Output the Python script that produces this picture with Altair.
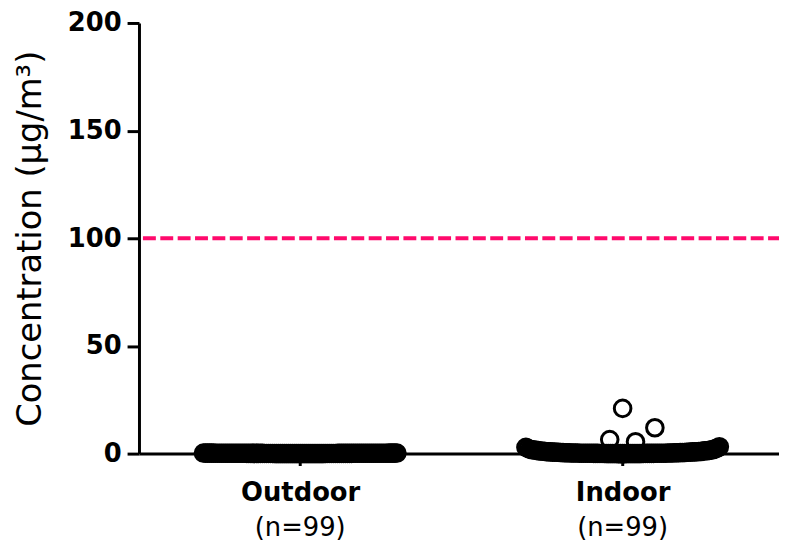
import altair as alt
import pandas as pd
import numpy as np

groups = ["Outdoor", "Indoor"]
n_labels = ["(n=99)", "(n=99)"]

outdoor = [
    0.12, 0.05, 0.20, 0.08, 0.15, 0.03, 0.10, 0.25, 0.07, 0.18,
    0.09, 0.14, 0.02, 0.22, 0.11, 0.06, 0.17, 0.04, 0.13, 0.19,
    0.08, 0.21, 0.10, 0.05, 0.16, 0.12, 0.03, 0.24, 0.09, 0.14,
    0.07, 0.18, 0.11, 0.02, 0.20, 0.06, 0.15, 0.10, 0.23, 0.04,
    0.13, 0.08, 0.19, 0.12, 0.05, 0.17, 0.09, 0.26, 0.03, 0.14,
    0.10, 0.21, 0.07, 0.16, 0.11, 0.04, 0.18, 0.08, 0.13, 0.22,
    0.06, 0.15, 0.09, 0.20, 0.02, 0.12, 0.17, 0.05, 0.24, 0.10,
    0.14, 0.07, 0.19, 0.11, 0.03, 0.16, 0.08, 0.21, 0.13, 0.06,
    0.18, 0.10, 0.04, 0.15, 0.12, 0.23, 0.09, 0.17, 0.05, 0.20,
    0.11, 0.14, 0.07, 0.19, 0.02, 0.16, 0.10, 0.13, 0.08,
]

indoor = [
    21.0, 12.0, 6.5, 5.5, 3.2, 2.9, 2.6, 2.4, 2.2, 2.0,
    1.9, 1.8, 1.7, 1.6, 1.5, 1.5, 1.4, 1.3, 1.3, 1.2,
    1.2, 1.1, 1.1, 1.0, 1.0, 0.9, 0.9, 0.9, 0.8, 0.8,
    0.8, 0.7, 0.7, 0.7, 0.6, 0.6, 0.6, 0.6, 0.5, 0.5,
    0.5, 0.5, 0.5, 0.4, 0.4, 0.4, 0.4, 0.4, 0.4, 0.3,
    0.3, 0.3, 0.3, 0.3, 0.3, 0.3, 0.2, 0.2, 0.2, 0.2,
    0.2, 0.2, 0.2, 0.2, 0.15, 0.15, 0.15, 0.15, 0.15, 0.1,
    0.1, 0.1, 0.1, 0.1, 0.1, 0.1, 0.1, 0.08, 0.08, 0.08,
    0.08, 0.06, 0.06, 0.06, 0.05, 0.05, 0.05, 0.04, 0.04, 0.03,
    0.03, 0.03, 0.02, 0.02, 0.02, 0.01, 0.01, 0.0, 0.0,
]

limit_value = 100

W, H = 645, 434
X_DOMAIN = [-0.5, 1.485]
Y_DOMAIN = [0, 200]
PX_X = W / (X_DOMAIN[1] - X_DOMAIN[0])
PX_Y = H / (Y_DOMAIN[1] - Y_DOMAIN[0])
DIAM = 22.0


def swarm(values, center, half_width=0.30, row_max=4.0):
    """Deterministic beeswarm: low values in one row, outliers spread around the centre."""
    base = sorted(v for v in values if v < row_max)
    high = sorted(v for v in values if v >= row_max)
    n = len(base)
    offs = np.linspace(-half_width, half_width, n)
    order = sorted(range(n), key=lambda i: abs(offs[i]))
    pts = [(center + offs[order[k]], base[k]) for k in range(n)]

    # bin outliers whose vertical distance is less than half a marker
    bins = []
    for v in high:
        if bins and (v - bins[-1][-1]) * PX_Y < DIAM / 2:
            bins[-1].append(v)
        else:
            bins.append([v])
    placed = []
    steps = [0]
    for s in range(1, 40):
        steps += [s, -s]
    for b in bins:
        b_desc = sorted(b, reverse=True)
        k = len(b_desc)
        rel = [(j - (k - 1) / 2) * (DIAM + 4) / PX_X for j in range(k)]
        for s in steps:
            shift = s * 0.01
            cand = [(r + shift, v) for r, v in zip(rel, b_desc)]
            ok = all(((cx - px) * PX_X) ** 2 + ((cv - pv) * PX_Y) ** 2 >= DIAM ** 2
                     for cx, cv in cand for px, pv in placed)
            if ok:
                break
        placed += cand
    pts += [(center + px, pv) for px, pv in placed]
    return pts


rows = []
for gi, vals in enumerate([outdoor, indoor]):
    for x, v in swarm(vals, gi):
        rows.append({"x": x, "value": v, "group": groups[gi]})
df = pd.DataFrame(rows)

font = "DejaVu Sans"

x_scale = alt.Scale(domain=X_DOMAIN, nice=False, zero=False)
y_scale = alt.Scale(domain=Y_DOMAIN, nice=False)

label_expr = "[" + ",".join(f"'{g}'" for g in groups) + "][datum.value]"

points = alt.Chart(df).mark_point(
    shape="circle", filled=False, stroke="black", strokeWidth=3,
    size=280, opacity=1
).encode(
    x=alt.X("x:Q", scale=x_scale, axis=alt.Axis(
        values=[0, 1], labelExpr=label_expr, title=None, grid=False,
        labelFont=font, labelFontSize=26, labelFontWeight="bold",
        labelColor="black", labelPadding=14,
        tickSize=12, tickWidth=3, tickColor="black",
        domainWidth=3, domainColor="black")),
    y=alt.Y("value:Q", scale=y_scale, axis=alt.Axis(
        values=[0, 50, 100, 150, 200], grid=False,
        title="Concentration (μg/m³)", titleFont=font, titleFontSize=34,
        titleFontWeight="normal", titleColor="black", titlePadding=20,
        labelFont=font, labelFontSize=26, labelFontWeight="bold",
        labelColor="black", labelPadding=6,
        tickSize=12, tickWidth=3, tickColor="black",
        domainWidth=3, domainColor="black")),
)

limit_df = pd.DataFrame({"value": [limit_value]})
rule = alt.Chart(limit_df).mark_rule(
    color="#ff0a6c", strokeWidth=4, strokeDash=[13, 4.5]
).encode(
    y=alt.Y("value:Q", scale=y_scale),
    x=alt.value(4), x2=alt.value(W),
)

n_df = pd.DataFrame({"x": [0, 1], "label": n_labels})
ntext = alt.Chart(n_df).mark_text(
    font=font, fontSize=26, color="black", baseline="alphabetic", align="center"
).encode(
    x=alt.X("x:Q", scale=x_scale),
    y=alt.value(517),
    text="label:N",
)

chart = alt.layer(rule, points, ntext).properties(
    width=W, height=H,
    autosize="none",
    padding={"left": 132, "top": 13, "right": 0, "bottom": 87},
).configure_view(stroke=None)

chart.save("out.html", embed_options={"renderer": "svg", "actions": False})
